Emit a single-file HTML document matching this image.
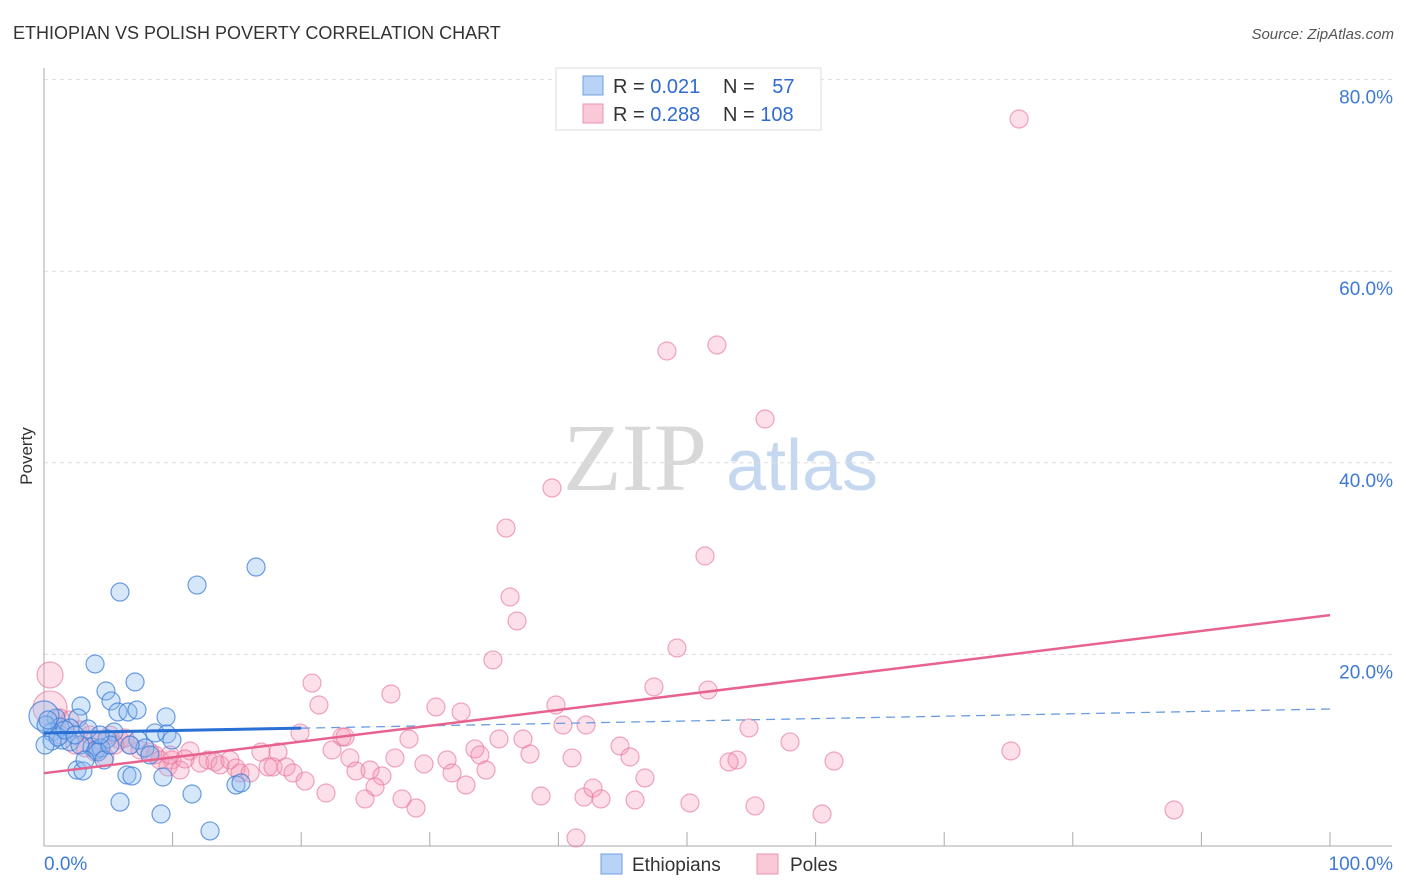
<!DOCTYPE html>
<html><head><meta charset="utf-8"><style>
body{margin:0;background:#fff;font-family:"Liberation Sans",sans-serif}
#wrap{position:relative;width:1406px;height:892px;overflow:hidden}
</style></head><body>
<div id="wrap">
<svg id="chart" width="1406" height="892" xmlns="http://www.w3.org/2000/svg">
<text x="13" y="39" font-size="18" fill="#333">ETHIOPIAN VS POLISH POVERTY CORRELATION CHART</text>
<text x="1394" y="39" font-size="15" fill="#555" font-style="italic" text-anchor="end">Source: ZipAtlas.com</text>
<text x="32" y="456" font-size="17" fill="#333" transform="rotate(-90 32 456)" text-anchor="middle">Poverty</text>
<g>
<text x="635" y="490" font-size="96" font-family="Liberation Serif,serif" fill="#d8d8d8" text-anchor="middle">ZIP</text>
<text x="802" y="490" font-size="72" fill="#c6d8f0" text-anchor="middle">atlas</text>
</g>
<g id="grid"></g><g id="axes"></g><g id="pink"></g><g id="blue"></g><g id="lines"></g>
<g>
<rect x="556" y="68" width="265" height="62" fill="#fff" stroke="#ddd"/>
<rect x="583" y="76" width="20" height="19" fill="#b8d3f5" stroke="#6ea0e0"/>
<rect x="583" y="104" width="20" height="19" fill="#fac9d8" stroke="#eb93b0"/>
<text x="613" y="93" font-size="20" fill="#333">R = <tspan fill="#2f6bd0">0.021</tspan></text>
<text x="723" y="93" font-size="20" fill="#333">N = <tspan fill="#2f6bd0" dx="12">57</tspan></text>
<text x="613" y="121" font-size="20" fill="#333">R = <tspan fill="#2f6bd0">0.288</tspan></text>
<text x="723" y="121" font-size="20" fill="#333">N = <tspan fill="#2f6bd0">108</tspan></text>
</g>
<g>
<rect x="601" y="854" width="21" height="20" fill="#b8d3f5" stroke="#6ea0e0"/>
<text x="632" y="871" font-size="19" fill="#333">Ethiopians</text>
<rect x="757" y="854" width="21" height="20" fill="#fac9d8" stroke="#eb93b0"/>
<text x="790" y="871" font-size="19" fill="#333">Poles</text>
</g>
</svg>
</div>
<script>
const yTicks=[20,40,60,80];
const yTickLabels=["20.0%","40.0%","60.0%","80.0%"];
const xTicks=[0,10,20,30,40,50,60,70,80,90,100];
const bluePx=[[120,592],[197,585],[256,567],[95,664],[135,682],[106,691],[111,701],[81,706],[118,712],[128,712],[137,710],[166,717],[78,718],[56,718],[44,716],[60,727],[70,728],[88,729],[52,732],[46,725],[114,732],[155,733],[167,734],[172,740],[138,740],[107,739],[62,740],[52,741],[70,742],[92,747],[96,750],[101,748],[145,748],[98,752],[104,760],[77,770],[83,771],[127,775],[132,776],[163,777],[236,785],[241,783],[192,794],[120,802],[161,814],[210,831],[45,745],[80,745],[58,737],[85,760],[110,745],[150,755],[65,730],[75,735],[48,720],[130,745],[100,735]];
const pinkPx=[[1019,119],[717,345],[667,351],[765,419],[552,488],[506,528],[705,556],[510,597],[517,621],[677,648],[493,660],[312,683],[391,694],[654,687],[708,690],[319,705],[436,707],[461,712],[556,705],[586,725],[563,725],[749,728],[300,733],[342,737],[345,737],[409,739],[499,739],[523,739],[790,742],[1011,751],[475,749],[332,750],[620,746],[261,752],[278,752],[572,758],[630,757],[737,760],[729,762],[834,761],[350,758],[395,758],[447,760],[424,764],[480,755],[530,754],[190,751],[155,755],[160,760],[172,760],[168,767],[180,770],[200,763],[208,760],[215,762],[220,765],[230,760],[236,768],[240,773],[250,773],[268,767],[273,767],[286,767],[293,773],[305,781],[356,771],[370,770],[382,776],[452,773],[486,770],[645,778],[375,787],[466,785],[326,793],[365,799],[402,799],[416,808],[541,796],[584,797],[593,788],[601,799],[635,800],[690,803],[755,806],[822,814],[1174,810],[576,838],[50,675],[50,708],[60,718],[70,720],[80,730],[90,735],[100,740],[110,735],[120,740],[125,738],[130,745],[140,750],[60,735],[75,745],[85,748],[95,752],[105,757],[115,745],[150,752],[170,755],[185,759]];
// data values (percent)
const blueX=bluePx.map(p=>+((p[0]-44)/12.86).toFixed(2));
const blueY=bluePx.map(p=>+((846-p[1])/9.58).toFixed(2));
const pinkX=pinkPx.map(p=>+((p[0]-44)/12.86).toFixed(2));
const pinkY=pinkPx.map(p=>+((846-p[1])/9.58).toFixed(2));
const blueTrend=[11.8,14.3];
const pinkTrend=[7.6,24.1];
const NS="http://www.w3.org/2000/svg";
const xS=v=>44+v*12.86, yS=v=>846-v*9.58;
function mk(tag,attrs,parent){const e=document.createElementNS(NS,tag);for(const k in attrs)e.setAttribute(k,attrs[k]);parent.appendChild(e);return e;}
const grid=document.getElementById('grid'),axes=document.getElementById('axes');
yTicks.forEach((t,i)=>{
 let l=mk('line',{x1:44,x2:1392,y1:yS(t),y2:yS(t),stroke:'#ddd','stroke-dasharray':'4,4'},grid);
 
 
 let tx=mk('text',{x:1393,y:yS(t)+24,'font-size':19,fill:'#3d7ad6','text-anchor':'end'},axes);
 tx.textContent=yTickLabels[i];
 
 
});
let ya=mk('line',{x1:44,x2:44,y1:68,y2:846,stroke:'#aaa'},axes);


let xa=mk('line',{x1:44,x2:1392,y1:846,y2:846,stroke:'#aaa'},axes);


xTicks.forEach(t=>{
 let l=mk('line',{x1:xS(t),x2:xS(t),y1:832,y2:846,stroke:'#aaa'},axes);
 
 
});
let xl0=mk('text',{x:44,y:870,'font-size':19,fill:'#3d7ad6'},axes);xl0.textContent="0.0%";


let xl1=mk('text',{x:1393,y:870,'font-size':19,fill:'#3d7ad6','text-anchor':'end'},axes);xl1.textContent="100.0%";


const pg=document.getElementById('pink'),bg=document.getElementById('blue');
pinkX.forEach((x,i)=>{
 let r=i===87?13:(i===88?17:9);
 let c=mk('circle',{cx:xS(x),cy:yS(pinkY[i]),r:r,fill:'rgba(244,150,180,0.3)',stroke:'rgba(232,120,158,0.65)','stroke-width':1.2},pg);
 
 
});
blueX.forEach((x,i)=>{
 let r=i===14?15:9;
 let c=mk('circle',{cx:xS(x),cy:yS(blueY[i]),r:r,fill:'rgba(140,185,240,0.35)',stroke:'rgba(60,125,215,0.75)','stroke-width':1.2},bg);
 
 
});
const lg=document.getElementById('lines');
const bAt=x=>blueTrend[0]+(blueTrend[1]-blueTrend[0])*x/100;
let bl=mk('line',{x1:xS(0),y1:yS(bAt(0)),x2:xS(20),y2:yS(bAt(20)),stroke:'#2a6fd4','stroke-width':3},lg);


let bd=mk('line',{x1:xS(20),y1:yS(bAt(20)),x2:xS(100),y2:yS(bAt(100)),stroke:'#6a9ce0','stroke-width':1.3,'stroke-dasharray':'9,6'},lg);


let pl=mk('line',{x1:xS(0),y1:yS(pinkTrend[0]),x2:xS(100),y2:yS(pinkTrend[1]),stroke:'#e8628f','stroke-width':2.5},lg);


</script>
</body></html>
